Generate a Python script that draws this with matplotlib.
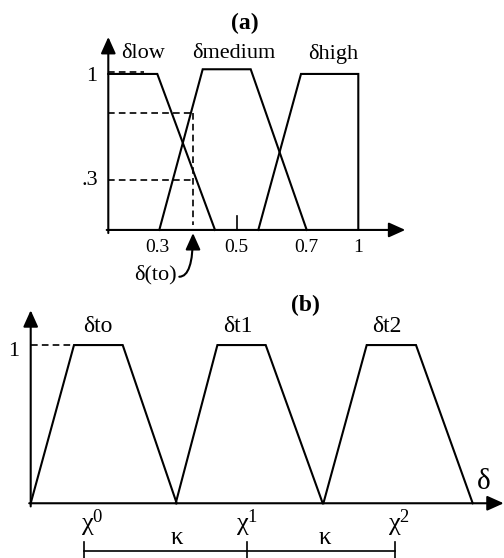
import matplotlib
matplotlib.use("Agg")
import matplotlib.pyplot as plt

plt.rcParams['font.family'] = ['Liberation Serif', 'DejaVu Serif']
plt.rcParams['mathtext.fontset'] = 'custom'
plt.rcParams['mathtext.rm'] = 'Liberation Serif'
plt.rcParams['mathtext.it'] = 'Liberation Serif:italic'

# ---- panel (a): membership functions, x in sketch units from the y axis
low_x = [0, 49, 106.7]
low_y = [1.0, 1.0, 0]
med_x = [51, 94.4, 142.4, 198.4]
med_y = [0, 1.03, 1.03, 0]
high_x = [150, 192.7, 250, 250]
high_y = [0, 1.0, 1.0, 0]
a_tick_pos = [48.7, 128.4, 198.4, 250]
a_tick_lab = ['0.3', '0.5', '0.7', '1']
a_levels = [0.748, 0.32]     # dashed read-offs
a_delta_to = 85              # delta(to)
a_names = ['δlow', 'δmedium', 'δhigh']
a_name_x = [35, 125, 225]

# ---- panel (b): three trapezoids
b_x = [[0, 43.3, 92, 146], [145, 186.7, 235, 292], [292.7, 336, 385.3, 442]]
b_y = [0, 1, 1, 0]
b_names = ['δto', 'δt1', 'δt2']
b_name_x = [67.6, 207.6, 356]
chi_tick = [53.3, 216.6, 364.3]
chi_lab_x = [50, 205, 357]
chi_lab = ['χ$^{0}$', 'χ$^{1}$', 'χ$^{2}$']
kappa_x = [146, 294.3]

FS = 16
LW = 1.5
arrow_kw = dict(arrowstyle='-|>,head_length=1.0,head_width=0.45', lw=LW,
                color='k', mutation_scale=10, shrinkA=0, shrinkB=0)

fig = plt.figure(figsize=(5.04, 5.58), dpi=100)
fig.patch.set_facecolor('white')

# panel (a)
ax = fig.add_axes([0, 268 / 558, 1, 290 / 558])
ax.set_xlim(-108.3, 395.7)
ax.set_ylim(-0.385, 1.474)
ax.axis('off')

ax.annotate('', xy=(0, 1.237), xytext=(0, -0.02), arrowprops=arrow_kw)
ax.annotate('', xy=(297, 0), xytext=(-1.6, 0), arrowprops=arrow_kw)

ax.plot(low_x, low_y, color='k', lw=LW, solid_joinstyle='miter')
ax.plot(med_x, med_y, color='k', lw=LW, solid_joinstyle='miter')
ax.plot(high_x, high_y, color='k', lw=LW, solid_joinstyle='miter')

dash = dict(color='k', lw=1.2, dashes=(4, 2.5))
ax.plot([0, 36], [1.013, 1.013], **dash)
ax.plot([0, 84.4], [a_levels[0], a_levels[0]], **dash)
ax.plot([0, 86], [a_levels[1], a_levels[1]], **dash)
ax.plot([a_delta_to, a_delta_to], [a_levels[0], 0.03], **dash)

ax.plot([128.4, 128.4], [0, 0.09], color='k', lw=1.2)

for x, lab in zip(a_tick_pos, a_tick_lab):
    ax.text(x, -0.115, lab, ha='center', va='center', fontsize=14)
ax.text(-16.6, 0.983, '1', ha='center', va='center', fontsize=FS)
ax.text(-18.3, 0.32, '.3', ha='center', va='center', fontsize=FS)
for x, lab in zip(a_name_x, a_names):
    ax.text(x, 1.13, lab, ha='center', va='center', fontsize=FS)
ax.text(136.7, 1.325, '(a)', ha='center', va='center', fontsize=17,
        fontweight='bold')

ax.text(46.7, -0.29, 'δ(to)', ha='center', va='center', fontsize=FS)
ax.annotate('', xy=(84.7, -0.02), xytext=(71, -0.30),
            arrowprops=dict(arrow_kw, connectionstyle='angle3,angleA=0,angleB=90'))

# panel (b)
bx = fig.add_axes([0, 0, 1, 268 / 558])
bx.set_xlim(-30.7, 473.3)
bx.set_ylim(-0.346, 1.348)
bx.axis('off')

bx.annotate('', xy=(0, 1.22), xytext=(0, -0.02), arrowprops=arrow_kw)
bx.annotate('', xy=(473, 0), xytext=(-1.5, 0), arrowprops=arrow_kw)

for xs in b_x:
    bx.plot(xs, b_y, color='k', lw=LW, solid_joinstyle='miter')
bx.plot([0, 43.3], [1.0, 1.0], **dash)

for x, lab in zip(b_name_x, b_names):
    bx.text(x, 1.12, lab, ha='center', va='center', fontsize=17)
bx.text(-17.4, 0.958, '1', ha='center', va='center', fontsize=FS)
bx.text(274.3, 1.253, '(b)', ha='center', va='center', fontsize=17,
        fontweight='bold')
bx.text(452.6, 0.137, 'δ', ha='center', va='center', fontsize=21)

for x, lab in zip(chi_lab_x, chi_lab):
    bx.text(x, -0.125, lab, ha='left', va='center', fontsize=19)
for x in kappa_x:
    bx.text(x, -0.22, 'κ', ha='center', va='center', fontsize=18)

bx.plot([chi_tick[0], chi_tick[-1]], [-0.30, -0.30], color='k', lw=1.2,
        clip_on=False)
for x in chi_tick:
    bx.plot([x, x], [-0.243, -0.36], color='k', lw=1.2, clip_on=False)

fig.savefig('out.png', dpi=100)
